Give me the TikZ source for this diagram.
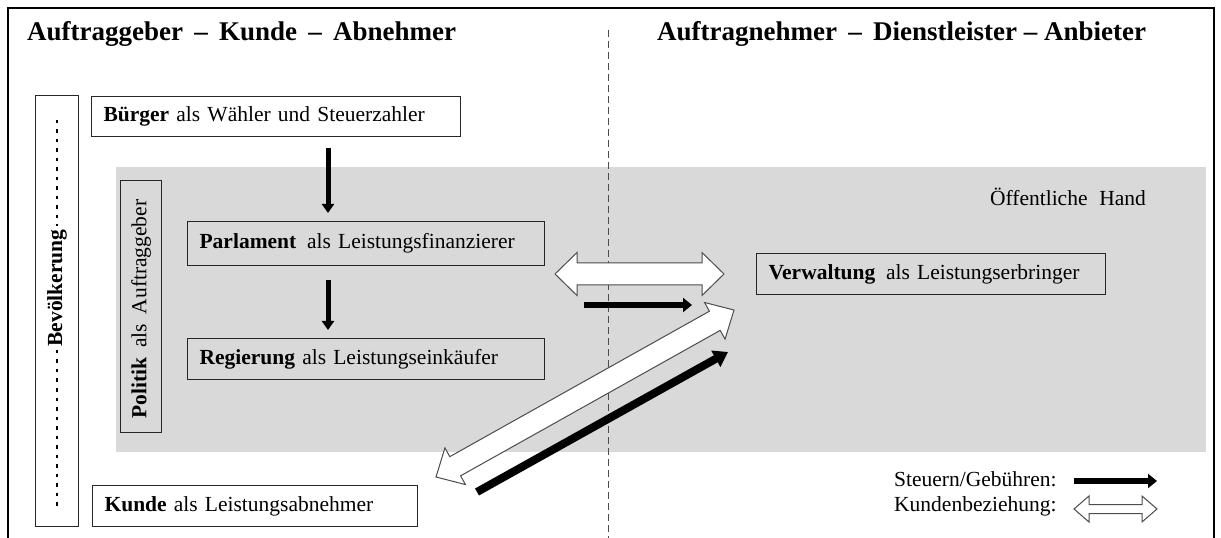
\documentclass[tikz,border=0pt]{standalone}
\usepackage{fontspec}
\setmainfont{Liberation Serif}
\usetikzlibrary{arrows.meta}
\definecolor{bggray}{HTML}{D9D9D9}
\newcommand\hdarrow[4]{% length, shaft half width, head half width, head length
  \draw[hollow] (0,0) -- (#4,-#3) -- (#4,-#2) -- ({#1-#4},-#2) -- ({#1-#4},-#3) -- (#1,0)
    -- ({#1-#4},#3) -- ({#1-#4},#2) -- (#4,#2) -- (#4,#3) -- cycle;}
\begin{document}
\begin{tikzpicture}[x=1bp,y=-1bp,
  every node/.style={font=\fontsize{21.5bp}{26bp}\selectfont, inner sep=0pt},
  title/.style={font=\fontsize{27bp}{32bp}\selectfont\bfseries, anchor=base west},
  box/.style={draw=black!85, line width=1.2bp, inner xsep=12bp, inner ysep=0pt, align=left, anchor=north west},
  tallbox/.style={draw=black!85, line width=1.2bp, anchor=north west},
  hollow/.style={draw=black!70, line width=1bp, fill=white, line join=miter},
  taxv/.style={line width=5bp, -{Triangle[length=9bp,width=12bp]}},
  taxh/.style={line width=6bp, -{Triangle[length=9bp,width=14bp]}},
  taxd/.style={line width=8bp, -{Triangle[length=14bp,width=18bp]}},
  bevdash/.style={line width=2.8bp, dash pattern=on 3.5bp off 6bp}
]
\useasboundingbox (0,0) rectangle (1221,538);
% frame
\draw[line width=2.2bp] (8,538) -- (8,8) -- (1214,8) -- (1214,538);
% grey area
\fill[bggray] (116,167) rectangle (1206,452);
% middle dashed line
\draw[black!70, line width=0.8bp, dash pattern=on 7bp off 4bp] (608,30) -- (608,538);
% titles
\node[title] (tl) at (27,41) {Auftraggeber\, – \,Kunde\, – \,Abnehmer};
\node[title] (tr) at (657,41) {Auftragnehmer\, – \,Dienstleister – Anbieter};
% Bevoelkerung
\node[tallbox, minimum width=43bp, minimum height=431bp] (bev) at (35,95) {};
\node[rotate=90, font=\fontsize{21.5bp}{26bp}\selectfont\bfseries] (bevtext) at (57,288) {Bevölkerung};
\draw[bevdash] (57,120) -- (57,226);
\draw[bevdash] (57,350) -- (57,506);
% Politik
\node[tallbox, minimum width=41bp, minimum height=252bp] (pol) at (120,180) {};
\node[rotate=90] (poltext) at (141,309) {\textbf{Politik}\hspace{0.2em} als\hspace{0.2em} Auftraggeber};
% boxes
\node[box, text width=345bp, minimum height=40bp] (buerger) at (91,96) {\textbf{Bürger} als Wähler und Steuerzahler};
\node[box, text width=333bp, minimum height=44bp] (parl) at (187,221) {\textbf{Parlament}\, als Leistungsfinanzierer};
\node[box, text width=333bp, minimum height=41bp] (reg) at (187,338) {\textbf{Regierung} als Leistungseinkäufer};
\node[box, text width=325bp, minimum height=41bp] (verw) at (756,253) {\textbf{Verwaltung}\, als Leistungserbringer};
\node[box, text width=301bp, minimum height=41bp] (kunde) at (92,485) {\textbf{Kunde} als Leistungsabnehmer};
\node (oeh) at (1068,197) {Öffentliche\hspace{0.55em}Hand};
% black vertical arrows
\coordinate (a1s) at (328,148); \coordinate (a1e) at (328,213);
\coordinate (a2s) at (328,280); \coordinate (a2e) at (328,330);
\draw[taxv] (a1s) -- (a1e);
\draw[taxv] (a2s) -- (a2e);
% horizontal arrows between Parlament and Verwaltung
\begin{scope}[shift={(555,274)}]
  \hdarrow{169}{11}{21.5}{22}
\end{scope}
\coordinate (hs) at (584,305); \coordinate (he) at (692,305);
\draw[taxh] (hs) -- (he);
% diagonal arrows Kunde <-> Verwaltung
\begin{scope}[shift={(436,477)}, rotate=29.26]
  \hdarrow{341.6}{11}{21}{22}
\end{scope}
\coordinate (ds) at (477,492); \coordinate (de) at (728,352);
\draw[taxd] (ds) -- (de);
% legend
\node[anchor=west] (lg1) at (894,479) {Steuern/Gebühren:};
\node[anchor=west] (lg2) at (894,506) {Kundenbeziehung:};
\coordinate (ls) at (1074,481); \coordinate (le) at (1157,481);
\draw[taxh] (ls) -- (le);
\begin{scope}[shift={(1074,509)}]
  \hdarrow{83}{4.5}{13}{15}
\end{scope}
\end{tikzpicture}
\end{document}
